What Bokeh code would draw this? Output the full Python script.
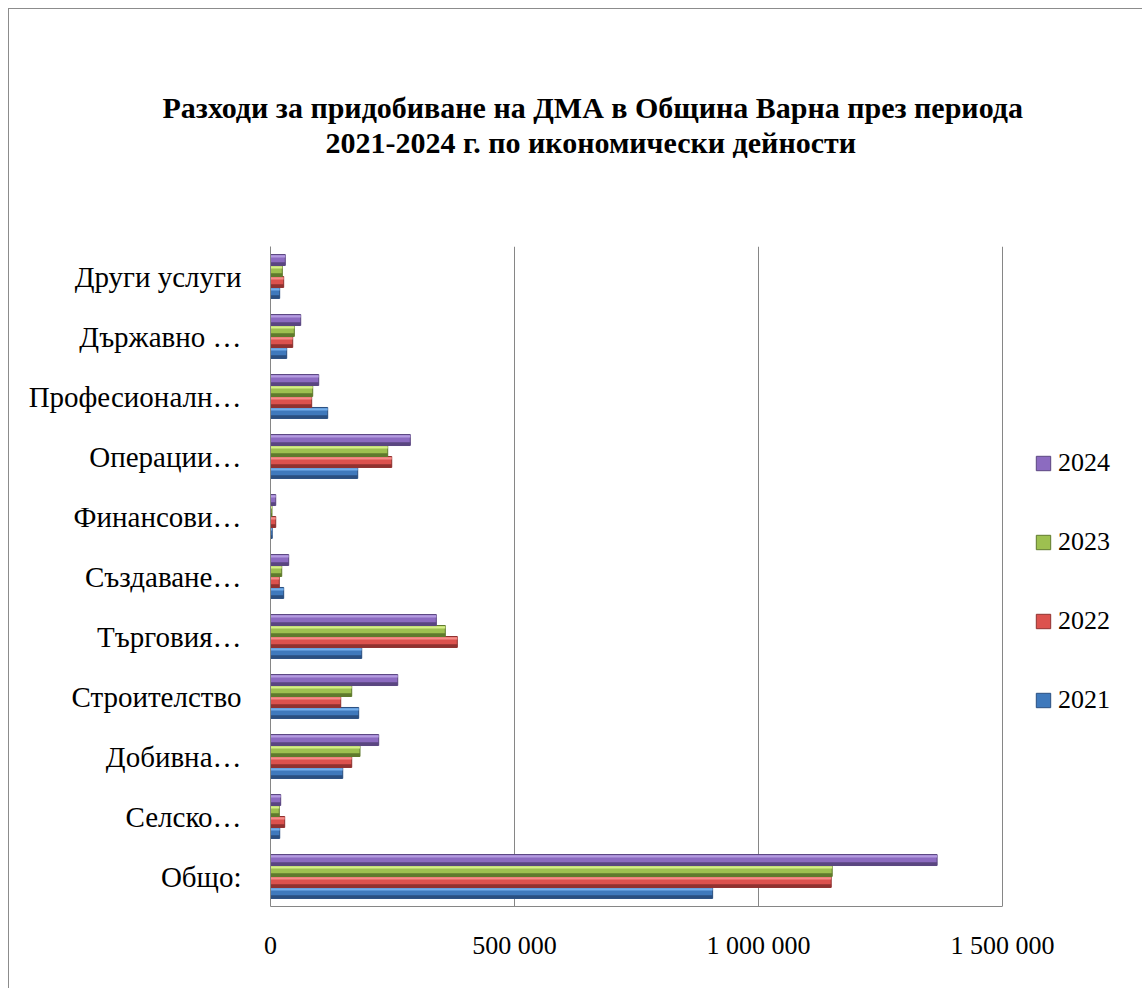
from bokeh.plotting import figure
from bokeh.models import (ColumnDataSource, FactorRange, Range1d, Legend, LegendItem,
                          Title, FixedTicker)
from bokeh.transform import dodge
from bokeh.embed import file_html
from bokeh.resources import INLINE

# ---- data (bottom to top, as drawn) ----
categories = ["Общо:", "Селско…", "Добивна…", "Строителство", "Търговия…",
              "Създаване…", "Финансови…", "Операции…", "Професионалн…",
              "Държавно …", "Други услуги"]
years = ["2021", "2022", "2023", "2024"]
v2021 = [906000, 18900, 148000, 180700, 186900, 27000, 3500, 178700, 117200, 33200, 18800]
v2022 = [1149000, 29100, 166400, 143900, 382800, 18000, 10700, 248400, 84400, 45500, 27000]
v2023 = [1151000, 18000, 183400, 166400, 358200, 23000, 3000, 240200, 86500, 48800, 24200]
v2024 = [1366000, 20900, 221700, 260700, 339800, 37300, 10700, 286500, 98800, 61900, 30300]
x_ticks = [0, 500000, 1000000, 1500000]
x_tick_labels = ["0", "500 000", "1 000 000", "1 500 000"]
title_line1 = "Разходи за придобиване на  ДМА в Община Варна през периода"
title_line2 = "2021-2024 г. по икономически дейности"

source = ColumnDataSource(dict(cat=categories, y2021=v2021, y2022=v2022,
                               y2023=v2023, y2024=v2024))

mid = {"2021": "#3F79BC", "2022": "#DC524E", "2023": "#9DC050", "2024": "#8C6BC0"}
light = {"2021": "#74AEEA", "2022": "#F48E8A", "2023": "#D6EE88", "2024": "#B49CE0"}
dark = {"2021": "#2A4F80", "2022": "#8F3230", "2023": "#5F7A2D", "2024": "#5A4680"}

SERIF = "Liberation Serif"

# plot area: value axis 0..1.5M occupies 732 px; the frame continues to the right
# so that the legend can sit inside it (axis line limited by bounds)
X_END = 1500000 * (1141 - 270) / 732

p = figure(width=1134, height=980, y_range=FactorRange(*categories),
           x_range=Range1d(0, X_END), output_backend="svg", toolbar_location=None,
           min_border_left=261, min_border_right=2, min_border_top=237,
           min_border_bottom=83)
p.styles = {"margin-left": "8px", "margin-top": "8px",
            "border-left": "1px solid #8c8c8c", "border-top": "1px solid #8c8c8c"}
p.outline_line_color = None
p.background_fill_color = "white"
p.border_fill_color = "white"

bar_h = 0.183
offsets = {"2021": -1.5 * bar_h, "2022": -0.5 * bar_h, "2023": 0.5 * bar_h, "2024": 1.5 * bar_h}

renderers = {}
for yr in years:
    r = p.hbar(y=dodge("cat", offsets[yr], range=p.y_range), left=0, right="y" + yr,
               height=bar_h, source=source, fill_color=mid[yr], line_color=dark[yr],
               line_width=1)
    # bevel: light strip on top, dark strip at the bottom
    p.hbar(y=dodge("cat", offsets[yr] + bar_h * 0.33, range=p.y_range), left=0,
           right="y" + yr, height=bar_h * 0.22, source=source, fill_color=light[yr],
           line_color=None)
    p.hbar(y=dodge("cat", offsets[yr] - bar_h * 0.33, range=p.y_range), left=0,
           right="y" + yr, height=bar_h * 0.25, source=source, fill_color=dark[yr],
           line_color=None)
    renderers[yr] = r

# axes
xa = p.xaxis[0]
xa.ticker = FixedTicker(ticks=x_ticks)
xa.bounds = (0, 1500000)
xa.major_label_overrides = {t: l for t, l in zip(x_ticks, x_tick_labels)}
xa.major_tick_out = 0
xa.major_tick_in = 0
xa.minor_tick_out = 0
xa.minor_tick_in = 0
xa.axis_line_color = "#868686"
xa.major_label_text_font = SERIF
xa.major_label_text_font_size = "26px"
xa.major_label_text_color = "black"
xa.major_label_standoff = 24

ya = p.yaxis[0]
ya.major_tick_out = 0
ya.major_tick_in = 0
ya.axis_line_color = "#868686"
ya.major_label_text_font = SERIF
ya.major_label_text_font_size = "29px"
ya.major_label_text_color = "black"
ya.major_label_standoff = 29

p.ygrid.grid_line_color = None
p.xgrid.grid_line_color = "#868686"
p.xgrid.grid_line_width = 1

# legend (inside the extended frame, right of the 1.5M gridline)
items = [LegendItem(label=yr, renderers=[renderers[yr]]) for yr in ["2024", "2023", "2022", "2021"]]
legend = Legend(items=items, location=(764, 191), padding=0, margin=0,
                border_line_color=None, background_fill_alpha=0,
                glyph_width=18, glyph_height=18, label_height=30, spacing=49,
                label_standoff=6, label_text_font=SERIF, label_text_font_size="26px",
                label_text_color="black")
p.add_layout(legend)

# title: spacer + two lines stacked above the frame
p.title = None
p.add_layout(Title(text=" ", text_font_size="10px", standoff=75), "above")
p.add_layout(Title(text=title_line2, align="left", offset=55, standoff=0,
                   text_font=SERIF, text_font_size="30px", text_font_style="bold",
                   text_color="black"), "above")
p.add_layout(Title(text=title_line1, align="left", offset=-108, standoff=0,
                   text_font=SERIF, text_font_size="30px", text_font_style="bold",
                   text_color="black"), "above")

open("out.html", "w").write(file_html(p, INLINE))
